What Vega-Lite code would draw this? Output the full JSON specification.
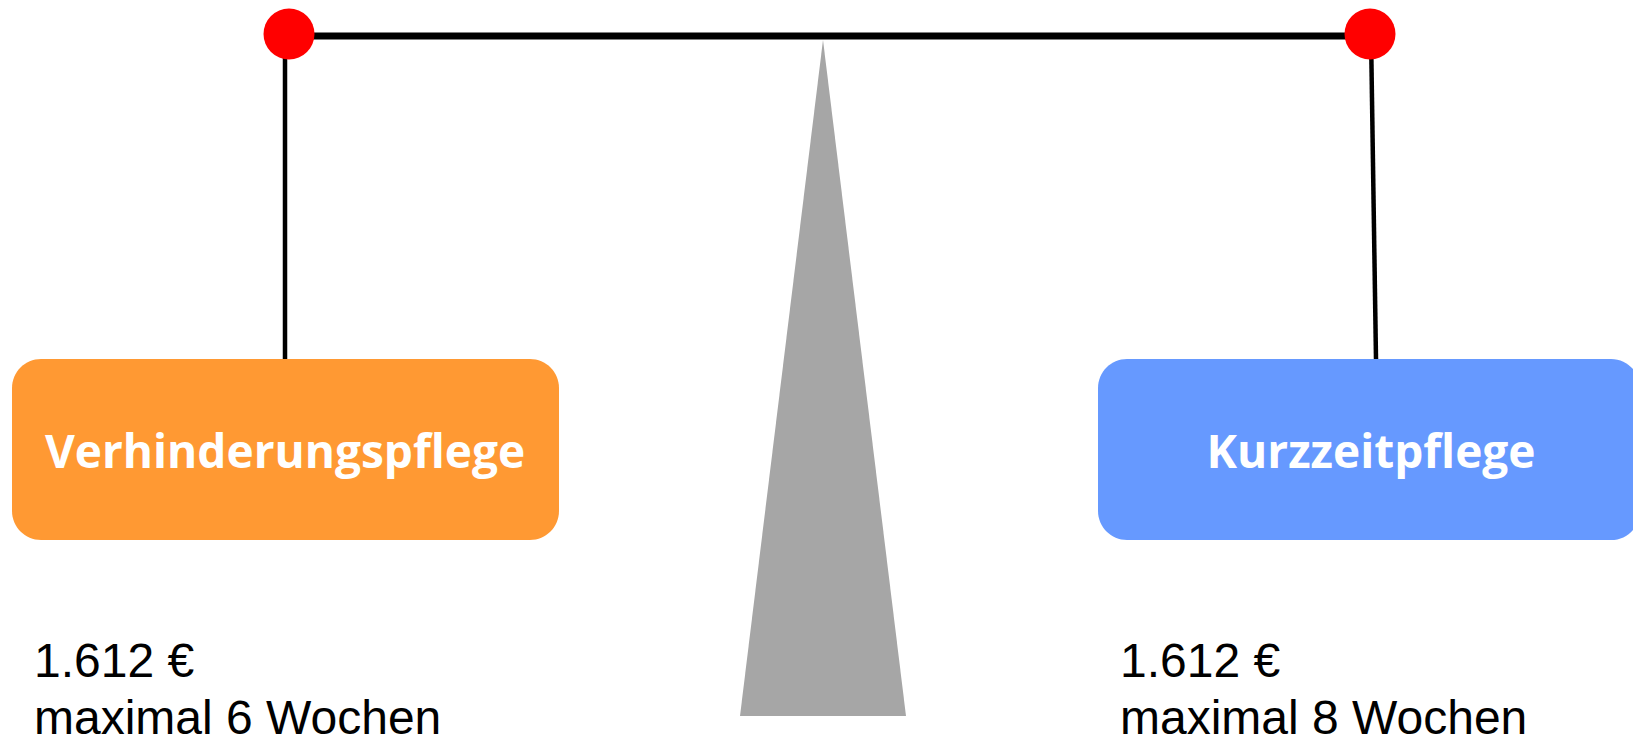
{
  "$schema": "https://vega.github.io/schema/vega-lite/v6.json",
  "width": 1633,
  "height": 737,
  "autosize": {"type": "none"},
  "padding": 0,
  "background": "white",
  "config": {"view": {"stroke": null}},
  "datasets": {
    "stand": [
      {"px": 740, "top": 716, "bottom": 716},
      {"px": 823, "top": 40, "bottom": 716},
      {"px": 906, "top": 716, "bottom": 716}
    ],
    "beam": [{"x1": 289, "x2": 1370, "y1": 36}],
    "hangers": [
      {"x1": 285, "x2": 285, "y1": 34, "y2": 359},
      {"x1": 1371, "x2": 1376, "y1": 34, "y2": 359}
    ],
    "pivots": [{"x": 289, "y": 34}, {"x": 1370, "y": 34}],
    "boxes": [
      {"name": "Verhinderungspflege", "x1": 12, "x2": 559, "y1": 359, "y2": 540, "cx": 285, "ty": 468},
      {"name": "Kurzzeitpflege", "x1": 1098, "x2": 1640, "y1": 359, "y2": 540, "cx": 1371, "ty": 468}
    ],
    "notes": [
      {"x": 34, "y": 677, "t": "1.612 €"},
      {"x": 34, "y": 734, "t": "maximal 6 Wochen"},
      {"x": 1120, "y": 677, "t": "1.612 €"},
      {"x": 1120, "y": 734, "t": "maximal 8 Wochen"}
    ]
  },
  "layer": [
    {
      "data": {"name": "stand"},
      "mark": {"type": "area", "color": "#A6A6A6", "interpolate": "linear"},
      "encoding": {
        "x": {"field": "px", "type": "quantitative", "scale": {"domain": [0, 1633], "nice": false, "zero": false}, "axis": null},
        "y": {"field": "top", "type": "quantitative", "scale": {"domain": [0, 737], "nice": false, "zero": false, "reverse": true}, "axis": null},
        "y2": {"field": "bottom"}
      }
    },
    {
      "data": {"name": "beam"},
      "mark": {"type": "rule", "color": "#000000", "strokeWidth": 7, "strokeCap": "butt"},
      "encoding": {
        "x": {"field": "x1", "type": "quantitative"},
        "x2": {"field": "x2"},
        "y": {"field": "y1", "type": "quantitative"}
      }
    },
    {
      "data": {"name": "hangers"},
      "mark": {"type": "rule", "color": "#000000", "strokeWidth": 4.5, "strokeCap": "butt"},
      "encoding": {
        "x": {"field": "x1", "type": "quantitative"},
        "x2": {"field": "x2"},
        "y": {"field": "y1", "type": "quantitative"},
        "y2": {"field": "y2"}
      }
    },
    {
      "data": {"name": "pivots"},
      "mark": {"type": "point", "shape": "circle", "filled": true, "color": "#FF0000", "opacity": 1, "size": 2600, "strokeWidth": 0},
      "encoding": {
        "x": {"field": "x", "type": "quantitative"},
        "y": {"field": "y", "type": "quantitative"}
      }
    },
    {
      "data": {"name": "boxes"},
      "mark": {"type": "rect", "cornerRadius": 29},
      "encoding": {
        "x": {"field": "x1", "type": "quantitative"},
        "x2": {"field": "x2"},
        "y": {"field": "y1", "type": "quantitative"},
        "y2": {"field": "y2"},
        "color": {"field": "name", "type": "nominal", "scale": {"domain": ["Verhinderungspflege", "Kurzzeitpflege"], "range": ["#FF9933", "#6699FF"]}, "legend": null}
      }
    },
    {
      "data": {"name": "boxes"},
      "mark": {"type": "text", "font": "Open Sans", "fontWeight": "bold", "fontSize": 46, "color": "#FFFFFF", "align": "center", "baseline": "alphabetic"},
      "encoding": {
        "x": {"field": "cx", "type": "quantitative"},
        "y": {"field": "ty", "type": "quantitative"},
        "text": {"field": "name"}
      }
    },
    {
      "data": {"name": "notes"},
      "mark": {"type": "text", "font": "Liberation Sans", "fontSize": 48, "color": "#000000", "align": "left", "baseline": "alphabetic"},
      "encoding": {
        "x": {"field": "x", "type": "quantitative"},
        "y": {"field": "y", "type": "quantitative"},
        "text": {"field": "t"}
      }
    }
  ]
}
